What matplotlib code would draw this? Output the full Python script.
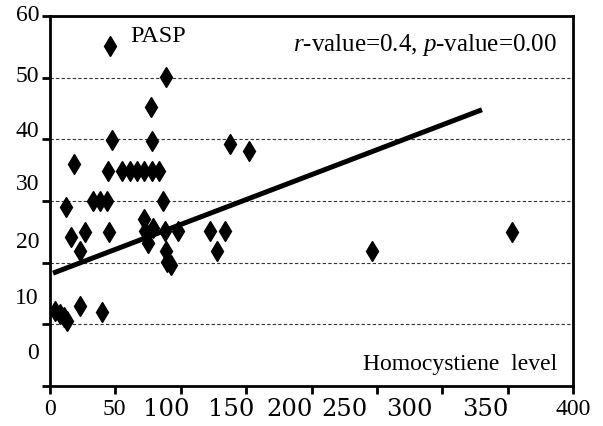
import numpy as np
import matplotlib
matplotlib.use("Agg")
import matplotlib.pyplot as plt
import matplotlib.transforms as mtransforms

plt.rcParams["mathtext.fontset"] = "custom"
plt.rcParams["mathtext.rm"] = "Liberation Serif"
plt.rcParams["mathtext.it"] = "Liberation Serif:italic"

# Homocystiene level (x) vs PASP (y)
homocys = [45.9, 88.7, 77.2, 47.4, 78.0, 137.7, 152.2, 18.4,
           44.4, 55.1, 61.2, 66.5, 71.9, 78.0, 83.4,
           32.9, 38.2, 43.6, 86.4, 12.2,
           26.8, 16.1, 22.9, 45.1, 71.9, 72.7, 78.8, 75.0,
           88.0, 97.9, 88.7, 89.5, 92.5, 122.4, 133.8, 127.7,
           246.3, 353.3,
           3.8, 7.6, 10.7, 13.0, 22.9, 39.8]
pasp = [55.1, 50.1, 45.2, 39.9, 39.7, 39.2, 38.1, 36.0,
        34.9, 34.9, 34.9, 34.9, 34.9, 34.9, 34.9,
        30.0, 30.0, 30.0, 30.0, 29.0,
        25.0, 24.2, 21.9, 25.0, 27.1, 25.1, 25.6, 23.2,
        25.1, 25.1, 21.9, 20.1, 19.6, 25.1, 25.1, 21.9,
        21.9, 25.0,
        12.2, 11.7, 11.2, 10.5, 13.0, 12.0]

# regression line end points
fit_x = [2.3, 330.4]
fit_y = [18.3, 44.8]

x_ticks = [0, 50, 100, 150, 200, 250, 300, 350, 400]
x_tick_labels = ["0", "50", "100", "150", "200", "250", "300", "350", "400"]
y_ticks = [0, 10, 20, 30, 40, 50, 60]
y_tick_labels = ["0", "10", "20", "30", "40", "50", "60"]

# where the tick labels actually sit in the original picture (data units)
x_label_pos = [0, 48.9, 88.7, 138.4, 183.0, 225.0, 275.0, 333.0, 400]
y_label_pos = [5.5, 14.4, 23.5, 32.9, 41.4, 50.4, 60.2]

serif = "Liberation Serif"
wide = "DejaVu Serif"

fig = plt.figure(figsize=(6.03, 4.27), dpi=100)
ax = fig.add_axes([50 / 603, 40 / 427, 523 / 603, 370 / 427])

ax.set_xlim(0, 400)
ax.set_ylim(0, 60)

for y in [10, 20, 30, 40, 50]:
    ax.axhline(y, color="#333333", lw=0.8, ls=(0, (3, 2)), zorder=1)

ax.plot(homocys, pasp, ls="none", marker="d", ms=10, color="black", zorder=3)
ax.plot(fit_x, fit_y, color="black", lw=3.6, solid_capstyle="butt", zorder=4)

for s in ax.spines.values():
    s.set_linewidth(2)
    s.set_color("black")

ax.set_xticks(x_ticks)
ax.set_yticks(y_ticks)
ax.set_xticklabels([])
ax.set_yticklabels([])
ax.tick_params(direction="out", length=6, width=2, color="black")

# x tick labels
bt = mtransforms.blended_transform_factory(ax.transData, ax.transAxes)
for pos, lab in zip(x_label_pos, x_tick_labels):
    if lab in ("0", "50", "400"):
        ax.text(pos, -0.062, lab, transform=bt, ha="center", va="center",
                fontsize=17, family=serif)
    else:
        ax.text(pos, -0.062, lab, transform=bt, ha="center", va="center",
                fontsize=17.5, family=wide)

# y tick labels
lt = mtransforms.blended_transform_factory(ax.transAxes, ax.transData)
for pos, lab in zip(y_label_pos, y_tick_labels):
    ax.text(-0.021, pos, lab, transform=lt, ha="right", va="center",
            fontsize=17, family=serif)

ax.text(82.6, 56.8, "PASP", ha="center", va="center", fontsize=17.5, family=serif)
ax.text(0.97, 0.925, r"$\it{r}$-value=0.4, $\it{p}$-value=0.00", transform=ax.transAxes,
        ha="right", va="center", fontsize=18, family=serif)
ax.text(0.97, 0.062, "Homocystiene  level", transform=ax.transAxes,
        ha="right", va="center", fontsize=17, family=serif)

fig.savefig("out.png", dpi=100)
